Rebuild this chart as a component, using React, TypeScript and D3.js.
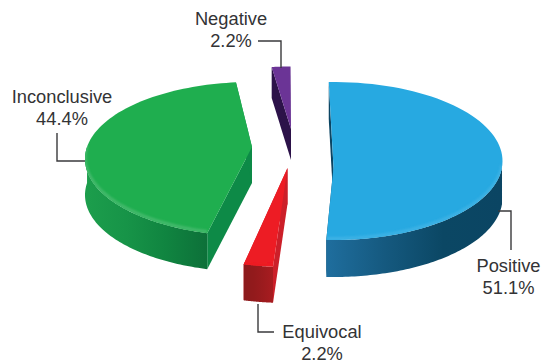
import React from "react";
import * as d3 from "d3";

const categories = ["Positive", "Equivocal", "Inconclusive", "Negative"];
const shares = [51.1, 2.2, 44.4, 2.2];

type Point = [number, number];

// Each exploded wedge sits on its own ellipse. apexY differs from cy because the
// disc is seen in perspective, so the pie centre is not the middle of the ellipse.
const wedgeLayout = [
  { cx: 333.5, cy: 161, rx: 169, ry: 79, apexY: 167, depth: 37, spin: -0.3, top: "#27a9e1", cut: "#0b4563", bevel: "#3db2e5", wallStops: ["#1f6e9e", "#15597f", "#0b4764", "#0b4563"] },
  { cx: 287.5, cy: 190, rx: 168, ry: 77, apexY: 168, depth: 36, spin: 0.9, top: "#ed1c24", cut: "#cc1f29", bevel: "#ed1c24", wallStops: ["#8c1a1c", "#921a1c", "#9c1b1e", "#a81c20"] },
  { cx: 252, cy: 159, rx: 167, ry: 77, apexY: 147, depth: 36, spin: 2.6, top: "#1fae4f", cut: "#0d8a47", bevel: "#45ba6d", wallStops: ["#1c9e4c", "#179448", "#108440", "#0d7039"] },
  { cx: 291, cy: 143.5, rx: 168, ry: 77, apexY: 129, depth: 31, spin: 1, top: "#6b3496", cut: "#2c1249", bevel: "#6b3496", wallStops: ["#2c1249", "#2c1249", "#2c1249", "#2c1249"] },
];

const labelLines = [
  { lines: [categories[0], `${shares[0]}%`], x: 508.5, y: 272 },
  { lines: [categories[1], `${shares[1]}%`], x: 322, y: 338 },
  { lines: [categories[2], `${shares[2]}%`], x: 62, y: 103 },
  { lines: [categories[3], `${shares[3]}%`], x: 231, y: 25 },
];

const leaderPaths: Point[][] = [
  [[498, 211], [511, 211], [511, 250]],
  [[258, 304], [258, 332], [274, 332]],
  [[57, 133], [57, 161], [85, 161]],
  [[258, 41], [281, 41], [281, 68]],
];

const toPath = d3.line<Point>();
const rad = (deg: number) => (deg * Math.PI) / 180;

const pieAngles = d3
  .pie<number>()
  .sort(null)
  .startAngle(rad(-1.2))
  .endAngle(rad(358.8))(shares);

type Layout = (typeof wedgeLayout)[number];

// Where a ray leaving the apex at a given pie angle meets the unit disc.
function rimPoint(w: Layout, angle: number): Point {
  const x = d3.scaleLinear().domain([-1, 1]).range([w.cx - w.rx, w.cx + w.rx]);
  const y = d3.scaleLinear().domain([-1, 1]).range([w.cy - w.ry, w.cy + w.ry]);
  const v0 = (w.apexY - w.cy) / w.ry;
  const dx = Math.sin(angle);
  const dy = -Math.cos(angle);
  const b = v0 * dy;
  const t = -b + Math.sqrt(b * b - (v0 * v0 - 1));
  return [x(t * dx), y(v0 + t * dy)];
}

const rimArc = (w: Layout, a0: number, a1: number, n = 80): Point[] =>
  d3.range(n + 1).map((i) => rimPoint(w, a0 + ((a1 - a0) * i) / n));

const drop = (pts: Point[], d: number): Point[] => pts.map(([x, y]) => [x, y + d]);

function Wedge({ index }: { index: number }) {
  const w = wedgeLayout[index];
  const a0 = pieAngles[index].startAngle + rad(w.spin);
  const a1 = pieAngles[index].endAngle + rad(w.spin);
  const apex: Point = [w.cx, w.apexY];
  const rim = rimArc(w, a0, a1);
  const topFace = toPath([apex, ...rim])! + "Z";

  const cutWall = (angle: number) => {
    const outer = rimPoint(w, angle);
    return (
      toPath([apex, outer, [outer[0], outer[1] + w.depth], [apex[0], apex[1] + w.depth]])! + "Z"
    );
  };

  // Only the part of the rim that faces the viewer shows a wall.
  const frontStart = Math.max(a0, rad(90));
  const frontEnd = Math.min(a1, rad(270));
  const hasFront = frontEnd > frontStart;
  const front = hasFront ? rimArc(w, frontStart, frontEnd) : [];
  const frontWall = hasFront ? toPath([...front, ...drop(front, w.depth).reverse()])! + "Z" : "";
  const xs = front.map((p) => p[0]);
  const gradId = `wall-${index}`;
  const clipId = `top-${index}`;

  return (
    <g>
      <path d={cutWall(a0)} fill={w.cut} />
      <path d={cutWall(a1)} fill={w.cut} />
      {hasFront && (
        <>
          <defs>
            <linearGradient
              id={gradId}
              gradientUnits="userSpaceOnUse"
              x1={d3.min(xs)}
              x2={d3.max(xs)}
              y1={0}
              y2={0}
            >
              {w.wallStops.map((c, i) => (
                <stop key={i} offset={i / (w.wallStops.length - 1)} stopColor={c} />
              ))}
            </linearGradient>
          </defs>
          <path d={frontWall} fill={`url(#${gradId})`} />
        </>
      )}
      <path d={topFace} fill={w.top} />
      <clipPath id={clipId}>
        <path d={topFace} />
      </clipPath>
      {hasFront && (
        <g clipPath={`url(#${clipId})`}>
          <path
            d={toPath(drop(front, -1.5))!}
            fill="none"
            stroke={w.bevel}
            strokeWidth={3}
            filter="url(#soft)"
          />
        </g>
      )}
    </g>
  );
}

export default function App() {
  return (
    <svg
      width={541}
      height={364}
      viewBox="0 0 541 364"
      style={{ position: "absolute", left: 0, top: 0, display: "block", background: "#fff" }}
    >
      <defs>
        <filter id="soft" x="-10%" y="-10%" width="120%" height="120%">
          <feGaussianBlur stdDeviation="0.8" />
        </filter>
      </defs>
      {categories.map((c, i) => (
        <Wedge key={c} index={i} />
      ))}
      {leaderPaths.map((p, i) => (
        <path key={i} d={toPath(p)!} fill="none" stroke="#3a3a3c" strokeWidth={1.4} />
      ))}
      {labelLines.map((l) => (
        <text
          key={l.lines[0]}
          textAnchor="middle"
          fontFamily="'Liberation Sans', Arial, sans-serif"
          fontSize={18.3}
          fill="#333335"
        >
          {l.lines.map((t, i) => (
            <tspan key={t} x={l.x} y={l.y + i * 21.5}>
              {t}
            </tspan>
          ))}
        </text>
      ))}
    </svg>
  );
}
